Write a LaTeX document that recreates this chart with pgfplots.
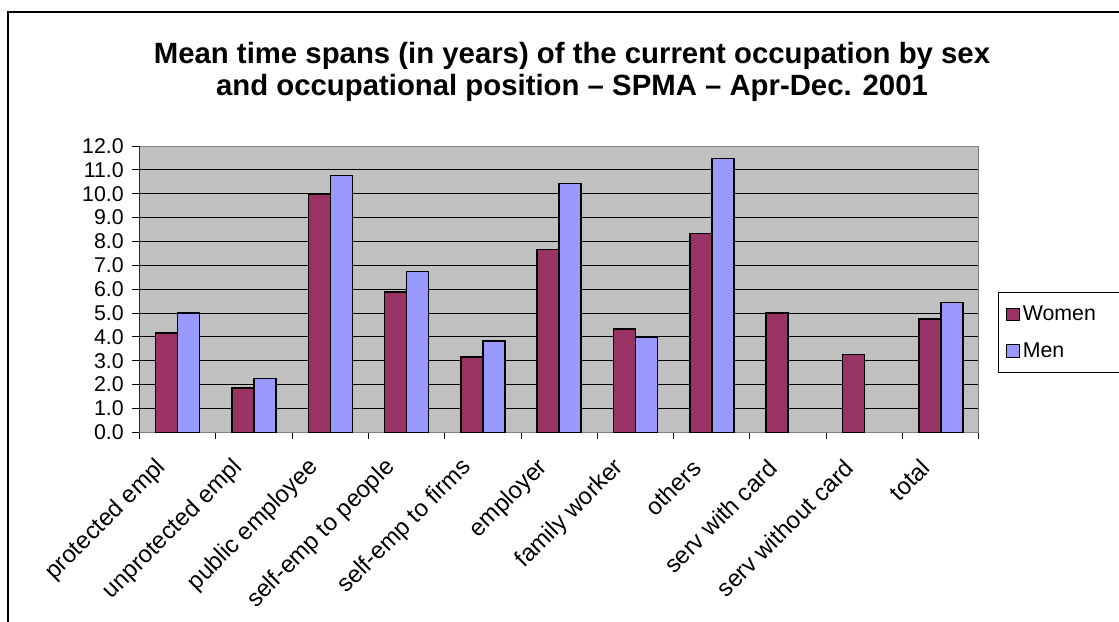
\documentclass[border=0pt]{standalone}
\usepackage{fontspec}
\setmainfont{Liberation Sans}
\usepackage{pgfplots}
\pgfplotsset{compat=1.18}
\definecolor{wom}{HTML}{993366}
\definecolor{men}{HTML}{9999FF}
\definecolor{plotbg}{HTML}{C0C0C0}

\begin{document}
\begin{tikzpicture}
% page = 1119x621 px at 0.75pt per px
\path[use as bounding box] (0pt,0pt) rectangle (839.25pt,465.75pt);
\fill[white] (0pt,0pt) rectangle (839.25pt,465.75pt);
\draw[black,line width=1pt] (6pt,-5pt) -- (6pt,456.75pt) -- (850pt,456.75pt);

\node[anchor=base,inner sep=0pt,font=\fontsize{22}{26}\selectfont\bfseries]
  at (429pt,417.75pt) {Mean time spans (in years) of the current occupation by sex};
\node[anchor=base,inner sep=0pt,font=\fontsize{22}{26}\selectfont\bfseries]
  at (429pt,394.1pt) {and occupational position – SPMA – Apr-Dec. 2001};

\begin{axis}[
  at={(104.6pt,141.5pt)}, anchor=south west,
  scale only axis, width=629.6pt, height=214.7pt,
  xmin=-0.5, xmax=10.5, ymin=0, ymax=12,
  ytick={0,1,...,12},
  xtick={0,...,10},
  xticklabels={protected empl,unprotected empl,public employee,self-emp to people,self-emp to firms,employer,family worker,others,serv with card,serv without card,total},
  minor xtick={-0.5,0.5,...,10.5},
  xtick pos=bottom, ytick pos=left,
  tick align=outside,
  major tick length=5.25pt, minor tick length=5.25pt,
  major x tick style={draw=none},
  minor x tick style={black,line width=0.75pt},
  y tick style={black,line width=0.75pt},
  ymajorgrids, major grid style={black,line width=0.75pt},
  axis background/.style={fill=plotbg},
  axis line style={draw=black!50,line width=0.75pt},
  /pgf/number format/assume math mode=true,
  yticklabel style={font=\fontsize{16}{19}\selectfont,xshift=-3pt,
    /pgf/number format/.cd,fixed,fixed zerofill,precision=1},
  xticklabel style={font=\fontsize{18}{21}\selectfont,xshift=-9pt,yshift=-16pt,rotate=45,anchor=east},
  legend style={at={(axis description cs:1.0226,0.4895)},anchor=north west,
    draw=black,line width=0.75pt,fill=white,font=\fontsize{16}{19}\selectfont,
    row sep=11pt,inner xsep=6pt,inner ysep=8pt},
  legend cell align=left,
]
\addplot[ybar,bar width=0.288,bar shift=-0.144,fill=wom,draw=black,line width=1.1pt,
  legend image code/.code={\draw[fill=wom,draw=black,line width=0.75pt] (0pt,-4.75pt) rectangle (9.5pt,4.75pt);}]
  coordinates {(0,4.17) (1,1.85) (2,10.0) (3,5.89) (4,3.15) (5,7.67) (6,4.33) (7,8.33) (8,5.0) (9,3.26) (10,4.75)};
\addplot[ybar,bar width=0.288,bar shift=0.144,fill=men,draw=black,line width=1.1pt,
  legend image code/.code={\draw[fill=men,draw=black,line width=0.75pt] (0pt,-4.75pt) rectangle (9.5pt,4.75pt);}]
  coordinates {(0,5.01) (1,2.26) (2,10.76) (3,6.75) (4,3.83) (5,10.43) (6,4.0) (7,11.48) (10,5.45)};
\legend{\makebox[72pt][l]{Women},Men}
\draw[black,line width=0.75pt] (rel axis cs:0,0) -- (rel axis cs:0,1);
\end{axis}
\end{tikzpicture}
\end{document}
